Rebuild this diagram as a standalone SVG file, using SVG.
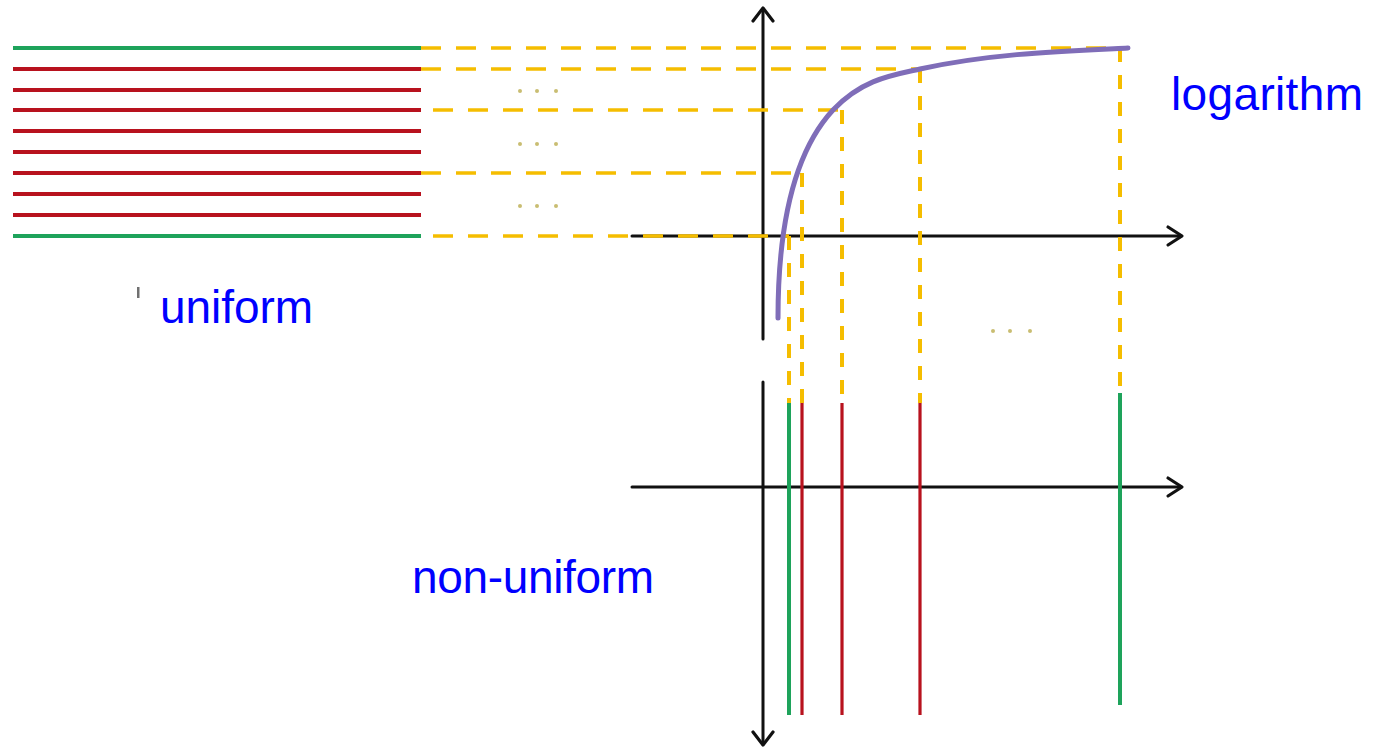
<svg xmlns="http://www.w3.org/2000/svg" width="1378" height="751" viewBox="0 0 1378 751">
<defs>
<style>
.ax{stroke:#111;stroke-width:3;fill:none;stroke-linecap:round}
.ah{stroke:#111;stroke-width:3.2;fill:none;stroke-linecap:round;stroke-linejoin:round}
.g{stroke:#1ea35b;stroke-width:3.8;fill:none}
.r{stroke:#b8121e;stroke-width:3.8;fill:none}
.gv{stroke:#1ea35b;stroke-width:4;fill:none}
.rv{stroke:#b8121e;stroke-width:3.2;fill:none}
.dh{stroke:#f5bd00;stroke-width:3.5;fill:none;stroke-dasharray:20 15}
.dv{stroke:#f5bd00;stroke-width:4;fill:none;stroke-dasharray:14 13}
.lbl{font-family:"Liberation Sans",Arial,sans-serif;font-size:46px;fill:#0000ff}
.dot{fill:#c9bd72}
</style>
</defs>
<rect width="1378" height="751" fill="#ffffff"/>

<g id="uniform-lines">
<line class="g" x1="13" y1="48" x2="421" y2="48"/>
<line class="r" x1="13" y1="69" x2="421" y2="69"/>
<line class="r" x1="13" y1="90" x2="421" y2="90"/>
<line class="r" x1="13" y1="110" x2="421" y2="110"/>
<line class="r" x1="13" y1="131" x2="421" y2="131"/>
<line class="r" x1="13" y1="152" x2="421" y2="152"/>
<line class="r" x1="13" y1="173" x2="421" y2="173"/>
<line class="r" x1="13" y1="194" x2="421" y2="194"/>
<line class="r" x1="13" y1="215" x2="421" y2="215"/>
<line class="g" x1="13" y1="236" x2="421" y2="236"/>
</g>

<g id="axes">
<line class="ax" x1="632" y1="236" x2="1181" y2="236"/>
<polyline class="ah" points="1168,227 1182,236 1168,245"/>
<line class="ax" x1="763" y1="9" x2="763" y2="339"/>
<polyline class="ah" points="753,21 763,8 773,21"/>
<line class="ax" x1="632" y1="487" x2="1181" y2="487"/>
<polyline class="ah" points="1168,478 1182,487 1168,496"/>
<line class="ax" x1="763" y1="382" x2="763" y2="744"/>
<polyline class="ah" points="753,732 763,745 773,732"/>
</g>

<g id="connectors">
<line class="dh" x1="421" y1="48" x2="1128" y2="48"/>
<line class="dh" x1="421" y1="69" x2="920" y2="69"/>
<line class="dh" x1="433" y1="110" x2="842" y2="110"/>
<line class="dh" x1="421" y1="173" x2="802" y2="173"/>
<line class="dh" x1="433" y1="236" x2="789" y2="236"/>
<line class="dv" x1="789" y1="236" x2="789" y2="403"/>
<line class="dv" x1="802" y1="173" x2="802" y2="403"/>
<line class="dv" x1="842" y1="110" x2="842" y2="403"/>
<line class="dv" x1="920" y1="69" x2="920" y2="403"/>
<line class="dv" x1="1120" y1="48" x2="1120" y2="393"/>
</g>

<g id="log-curve">
<path d="M778,318 C778,220 796,150 833,110 C862,79.5 891,75.4 920,69 C989,53.7 1059,51.3 1128,48" fill="none" stroke="#7f6db8" stroke-width="5" stroke-linecap="round"/>
</g>

<g id="nonuniform-lines">
<line class="gv" x1="789" y1="403" x2="789" y2="715"/>
<line class="rv" x1="802" y1="403" x2="802" y2="715"/>
<line class="rv" x1="842" y1="403" x2="842" y2="715"/>
<line class="rv" x1="920" y1="403" x2="920" y2="715"/>
<line class="gv" x1="1120" y1="393" x2="1120" y2="705"/>
</g>

<g id="ellipses">
<circle class="dot" cx="520" cy="91" r="2"/><circle class="dot" cx="537" cy="91" r="2"/><circle class="dot" cx="556" cy="91" r="2"/>
<circle class="dot" cx="520" cy="144" r="2"/><circle class="dot" cx="537" cy="144" r="2"/><circle class="dot" cx="556" cy="144" r="2"/>
<circle class="dot" cx="520" cy="206" r="2"/><circle class="dot" cx="537" cy="206" r="2"/><circle class="dot" cx="556" cy="206" r="2"/>
<circle class="dot" cx="993" cy="331" r="2"/><circle class="dot" cx="1010" cy="331" r="2"/><circle class="dot" cx="1030" cy="331" r="2"/>
</g>

<rect x="137" y="287" width="2.5" height="11" fill="#333" opacity="0.7"/>

<g id="label-logarithm"><text class="lbl" x="1171" y="110" textLength="192">logarithm</text></g>
<g id="label-uniform"><text class="lbl" x="160" y="323" textLength="153">uniform</text></g>
<g id="label-nonuniform"><text class="lbl" x="412" y="593" textLength="242">non-uniform</text></g>
</svg>
